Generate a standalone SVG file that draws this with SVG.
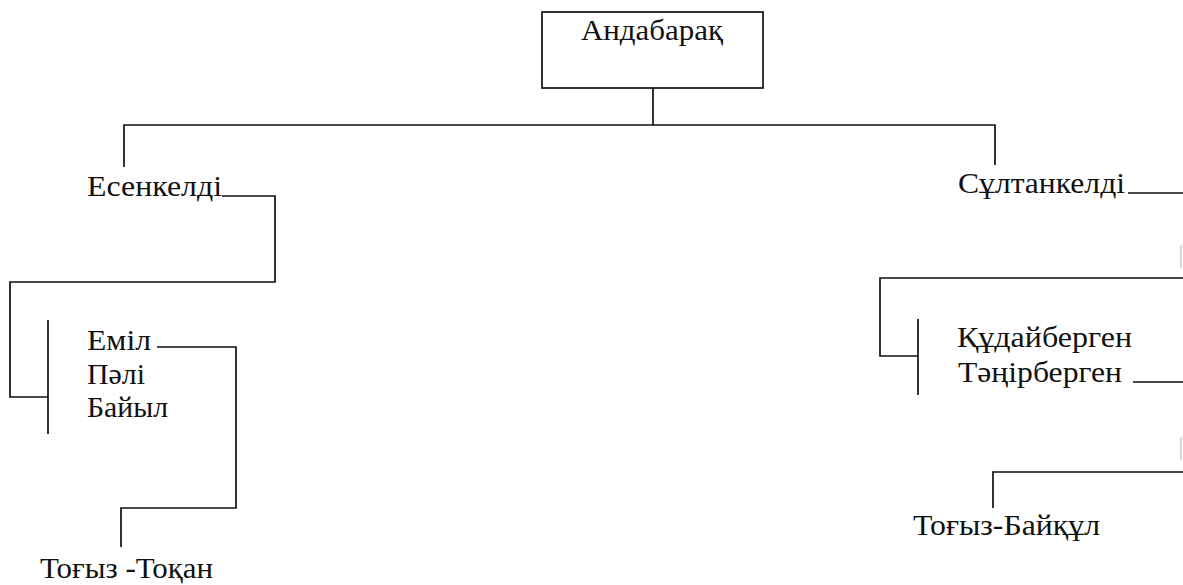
<svg xmlns="http://www.w3.org/2000/svg" width="1183" height="585" viewBox="0 0 1183 585">
<style>
text{font-family:"Liberation Serif","Times New Roman",serif;font-size:29px;fill:#111}
.ln{fill:none;stroke:#111;stroke-width:1.7}
.box{fill:#fff;stroke:#111;stroke-width:1.7}
.fa{fill:none;stroke:#bbb;stroke-width:1.2}
</style>
<rect width="1183" height="585" fill="#fff"/>
<g id="connectors">
<path class="ln" d="M653 88V125M124 167V125H995V165"/>
<path class="ln" d="M222 196H275V282H10V397H48M48 320V434"/>
<path class="ln" d="M157 347H236V508H121V547"/>
<path class="ln" d="M1128 193H1183M1183 278H880V356H918M918 319V395"/>
<path class="ln" d="M1133 382H1183M1183 472H993V508"/>
<path class="fa" d="M1181 245V268M1181 437V460"/>
</g>
<g id="n-andabaraq"><rect class="box" x="542" y="12" width="221" height="76"/><text x="581" y="40" textLength="142" lengthAdjust="spacingAndGlyphs">Андабарақ</text></g>
<g id="n-esenkeldi"><text x="87" y="196" textLength="135" lengthAdjust="spacingAndGlyphs">Есенкелді</text></g>
<g id="n-sultankeldi"><text x="958" y="193" textLength="167" lengthAdjust="spacingAndGlyphs">Сұлтанкелді</text></g>
<g id="n-emil"><text x="87" y="350" textLength="64" lengthAdjust="spacingAndGlyphs">Еміл</text></g>
<g id="n-pali"><text x="87" y="384" textLength="58" lengthAdjust="spacingAndGlyphs">Пәлі</text></g>
<g id="n-baiyl"><text x="87" y="417" textLength="81" lengthAdjust="spacingAndGlyphs">Байыл</text></g>
<g id="n-qudaibergen"><text x="957" y="347" textLength="175" lengthAdjust="spacingAndGlyphs">Құдайберген</text></g>
<g id="n-tanirbergen"><text x="958" y="382" textLength="164" lengthAdjust="spacingAndGlyphs">Тәңірберген</text></g>
<g id="n-togyz-toqan"><text x="40" y="578" textLength="173" lengthAdjust="spacingAndGlyphs">Тоғыз -Тоқан</text></g>
<g id="n-togyz-baiqul"><text x="913" y="535" textLength="187" lengthAdjust="spacingAndGlyphs">Тоғыз-Байқұл</text></g>
</svg>
